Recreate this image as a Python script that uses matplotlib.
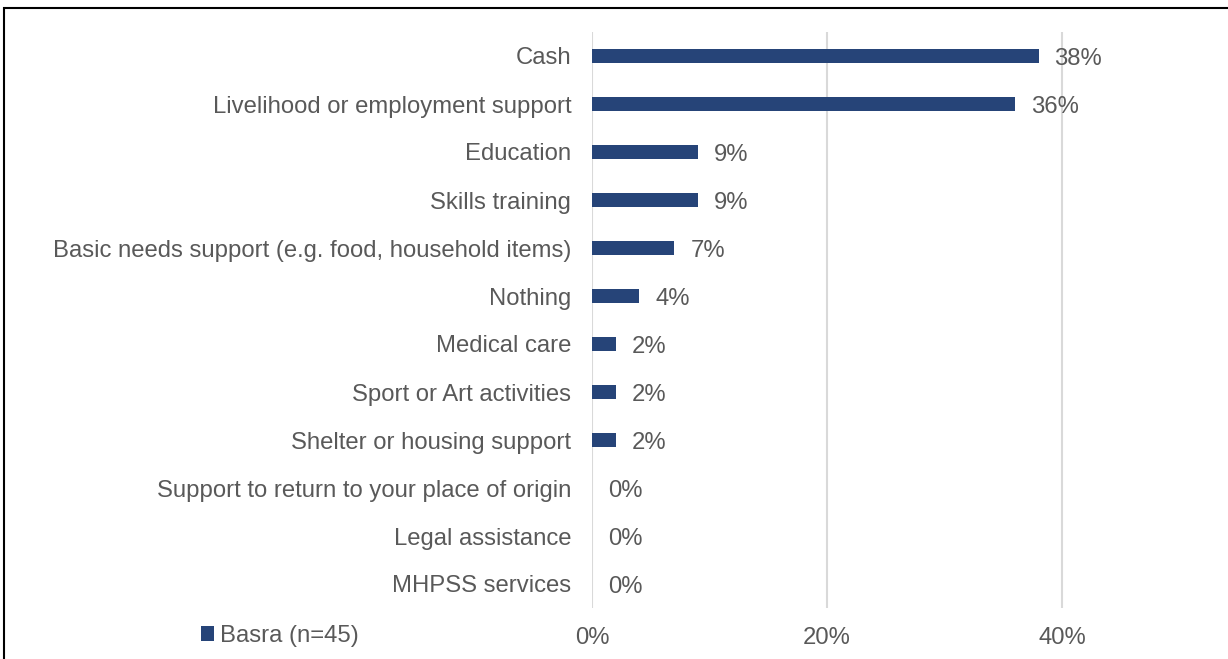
import matplotlib
matplotlib.use("Agg")
import matplotlib.pyplot as plt
from matplotlib.patches import Rectangle
from matplotlib.ticker import FuncFormatter

categories = [
    "Cash",
    "Livelihood or employment support",
    "Education",
    "Skills training",
    "Basic needs support (e.g. food, household items)",
    "Nothing",
    "Medical care",
    "Sport or Art activities",
    "Shelter or housing support",
    "Support to return to your place of origin",
    "Legal assistance",
    "MHPSS services",
]
values = [38, 36, 9, 9, 7, 4, 2, 2, 2, 0, 0, 0]
series_name = "Basra (n=45)"
x_ticks = [0, 20, 40]

BAR = "#264478"
TEXT = "#595959"
GRID = "#d9d9d9"
FS = 17.2

plt.rcParams["font.family"] = ["Liberation Sans", "DejaVu Sans"]

fig = plt.figure(figsize=(12.28, 6.59), dpi=100)
ax = fig.add_axes([592 / 1228, 1 - 608 / 659, (1179.5 - 592) / 1228, (608 - 32) / 659])

ypos = list(range(len(categories)))
bars = ax.barh(ypos, values, height=0.31, color=BAR, label=series_name, zorder=3)

for y, v in zip(ypos, values):
    ax.annotate(f"{v}%", xy=(v, y), xytext=(16, -3), textcoords="offset pixels",
                va="center", ha="left", fontsize=FS, color=TEXT)

ax.set_xlim(0, 50)
ax.set_ylim(len(categories) - 0.5, -0.5)
ax.set_xticks(x_ticks)
ax.xaxis.set_major_formatter(FuncFormatter(lambda v, p: f"{v:.0f}%"))
ax.set_yticks(ypos)
ax.set_yticklabels(categories)
ax.tick_params(axis="y", length=0, pad=15, labelsize=FS, labelcolor=TEXT)
ax.tick_params(axis="x", length=0, pad=14, labelsize=FS, labelcolor=TEXT)
ax.grid(axis="x", color=GRID, lw=1.5, zorder=0)
for s in ax.spines.values():
    s.set_visible(False)

leg = fig.legend(handles=[bars], labels=[series_name], loc="center left",
                 bbox_to_anchor=(201 / 1228, 1 - 636 / 659), frameon=False,
                 fontsize=FS, handlelength=0.55, handleheight=0.55, handletextpad=0.25,
                 borderaxespad=0, borderpad=0)
for t in leg.get_texts():
    t.set_color(TEXT)

fig.add_artist(Rectangle((3.5 / 1228, -0.1), 1.0, 1 - 7.5 / 659 + 0.1, fill=False,
                         edgecolor="black", lw=1.5, transform=fig.transFigure))

fig.savefig("out.png", dpi=100, facecolor="white")
